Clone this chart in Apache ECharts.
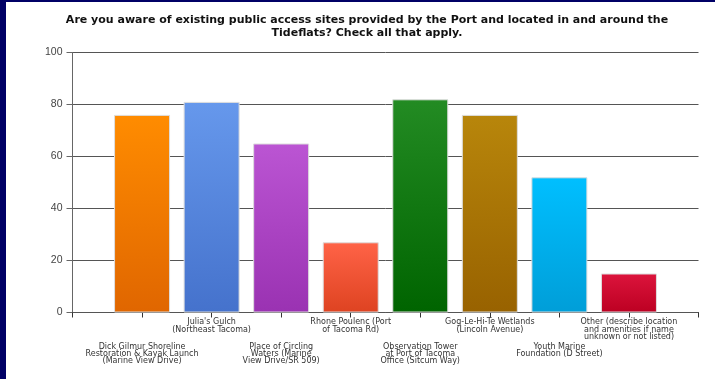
<!DOCTYPE html>
<html>
<head>
<meta charset="utf-8">
<script src="https://cdn.jsdelivr.net/npm/echarts@6/dist/echarts.min.js"></script>
<style>
  html, body { margin: 0; padding: 0; background: #fff; }
  #chart { width: 715px; height: 379px; }
</style>
</head>
<body>
<div id="chart"></div>
<script>
const chartDom = document.getElementById("chart");
const myChart = echarts.init(chartDom);

// data
const sites = [
  "Dick Gilmur Shoreline\nRestoration & Kayak Launch\n(Marine View Drive)",
  "Julia's Gulch\n(Northeast Tacoma)",
  "Place of Circling\nWaters (Marine\nView Drive/SR 509)",
  "Rhone Poulenc (Port\nof Tacoma Rd)",
  "Observation Tower\nat Port of Tacoma\nOffice (Sitcum Way)",
  "Gog-Le-Hi-Te Wetlands\n(Lincoln Avenue)",
  "Youth Marine\nFoundation (D Street)",
  "Other (describe location\nand amenities if name\nunknown or not listed)"
];
const counts = [76, 81, 65, 27, 82, 76, 52, 15];
const yTicks = [0, 20, 40, 60, 80, 100];

const topColors = ["#ff8c00", "#6698ec", "#bb55d3", "#ff6347", "#238b23", "#b8860b", "#00bfff", "#dc143c"];
const bottomColors = ["#e06600", "#4572cc", "#9a32b2", "#de4321", "#006400", "#986200", "#009ed8", "#bc0022"];

// pad one empty slot on each side so bars sit on ticks;
// every other label drops to a second row
const categories = [""].concat(sites.map((s, i) => (i % 2 === 0 ? "{g| }\n" + s : s)), [""]);

const barData = ["-"];
counts.forEach((v, i) => {
  barData.push({
    value: v,
    itemStyle: {
      color: new echarts.graphic.LinearGradient(0, 0, 0, 1, [
        { offset: 0, color: topColors[i] },
        { offset: 1, color: bottomColors[i] }
      ])
    }
  });
});
barData.push("-");

const option = {
  backgroundColor: "#fff",
  animation: false,
  title: {
    text: "Are you aware of existing public access sites provided by the Port and located in and around the\nTideflats? Check all that apply.",
    left: 362,
    top: 9,
    textAlign: "center",
    textStyle: {
      fontFamily: "DejaVu Sans",
      fontSize: 11,
      fontWeight: "bold",
      color: "#111",
      lineHeight: 13
    }
  },
  graphic: [
    { type: "rect", left: 0, top: 0, shape: { width: 6, height: 379 }, style: { fill: "#000066" } },
    { type: "rect", left: 0, top: 0, shape: { width: 715, height: 2 }, style: { fill: "#000066" } }
  ],
  grid: { left: 72.5, right: 16.5, top: 52.5, bottom: 66.5 },
  xAxis: {
    type: "category",
    data: categories,
    boundaryGap: false,
    axisLine: { lineStyle: { color: "#555", width: 1 } },
    axisTick: { show: true, interval: 0, length: 5, lineStyle: { color: "#333" } },
    axisLabel: {
      interval: 0,
      margin: 6,
      fontFamily: "DejaVu Sans",
      fontSize: 8,
      lineHeight: 7.4,
      color: "#333",
      rich: {
        g: { fontSize: 8, lineHeight: 24.3 }
      }
    },
    splitLine: { show: false }
  },
  yAxis: {
    type: "value",
    min: yTicks[0],
    max: yTicks[yTicks.length - 1],
    interval: 20,
    axisLine: { show: true, lineStyle: { color: "#666", width: 1 } },
    axisTick: { show: true, length: 6, lineStyle: { color: "#666" } },
    axisLabel: {
      margin: 10,
      fontFamily: "Liberation Sans",
      fontSize: 10.5,
      color: "#444"
    },
    splitLine: { lineStyle: { color: "#555", width: 1 } }
  },
  series: [
    {
      type: "bar",
      data: barData,
      barWidth: 56,
      itemStyle: { borderColor: "#dddddd", borderWidth: 1 }
    }
  ]
};

myChart.setOption(option);
</script>
</body>
</html>
